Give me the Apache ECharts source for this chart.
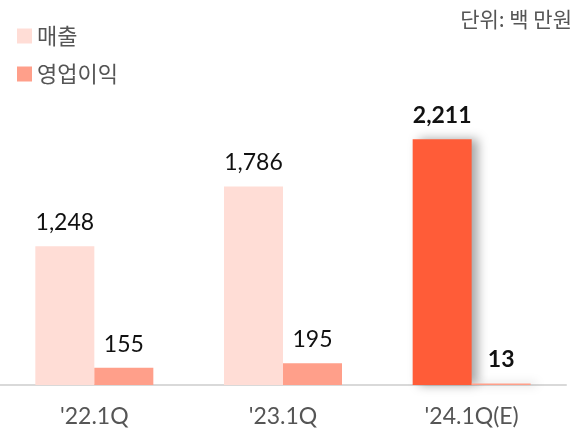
<!DOCTYPE html>
<html>
<head>
<meta charset="utf-8">
<script src="https://cdn.jsdelivr.net/npm/echarts@6/dist/echarts.min.js"></script>
<style>
html, body { margin: 0; padding: 0; background: #fff; }
#main { width: 577px; height: 436px; }
</style>
</head>
<body>
<div id="main"></div>
<script>
var categories = ["'22.1Q", "'23.1Q", "'24.1Q(E)"];
var salesValues = [1248, 1786, 2211];
var profitValues = [155, 195, 13];
var seriesNames = ['매출', '영업이익'];
var unitText = '단위: 백 만원';

var myChart = echarts.init(document.getElementById('main'));

var labelFont = 'Lato, "Noto Sans", sans-serif';

function buildData(values, baseColor, lastColor) {
    var out = [];
    for (var i = 0; i < values.length; ++i) {
        var last = (i === values.length - 1);
        out.push({
            value: values[i],
            itemStyle: last ? {
                color: lastColor,
                shadowColor: 'rgba(0,0,0,0.35)',
                shadowBlur: 10,
                shadowOffsetX: 6,
                shadowOffsetY: 0
            } : { color: baseColor },
            label: last ? { fontWeight: 'bold' } : {}
        });
    }
    return out;
}

var labelStyle = {
    show: true,
    position: 'top',
    distance: 12,
    fontSize: 23,
    color: '#111',
    fontFamily: labelFont,
    formatter: function (p) { return p.value.toLocaleString('en-US'); }
};

var option = {
    animation: false,
    grid: {
        left: 0,
        right: 11,
        top: 107,
        bottom: 51
    },
    title: {
        text: unitText,
        right: 0,
        top: 4,
        textStyle: {
            fontSize: 21,
            fontWeight: 'normal',
            color: '#555',
            fontFamily: '"Noto Sans CJK KR", sans-serif'
        }
    },
    legend: {
        orient: 'vertical',
        left: 12,
        top: 20,
        itemWidth: 15,
        itemHeight: 15,
        itemGap: 16,
        icon: 'rect',
        textStyle: {
            fontSize: 22,
            color: '#555',
            fontFamily: '"Noto Sans CJK KR", sans-serif'
        },
        data: [
            { name: seriesNames[0], itemStyle: { color: '#FFDDD6' } },
            { name: seriesNames[1], itemStyle: { color: '#FF9F8A' } }
        ]
    },
    xAxis: {
        type: 'category',
        data: categories,
        axisLine: { lineStyle: { color: '#d9d9d9', width: 2 } },
        axisTick: { show: false },
        axisLabel: {
            fontSize: 23,
            color: '#555',
            margin: 20,
            fontFamily: labelFont
        }
    },
    yAxis: {
        type: 'value',
        min: 0,
        max: 2500,
        show: false,
        splitLine: { show: false }
    },
    series: [{
        name: seriesNames[0],
        type: 'bar',
        barWidth: 59,
        barGap: '0%',
        itemStyle: { color: '#FFDDD6' },
        label: labelStyle,
        data: buildData(salesValues, '#FFDDD6', '#FF5C38')
    }, {
        name: seriesNames[1],
        type: 'bar',
        barWidth: 59,
        barGap: '0%',
        itemStyle: { color: '#FF9F8A' },
        label: labelStyle,
        data: buildData(profitValues, '#FF9F8A', '#FF9F8A')
    }]
};
myChart.setOption(option);
</script>
</body>
</html>
